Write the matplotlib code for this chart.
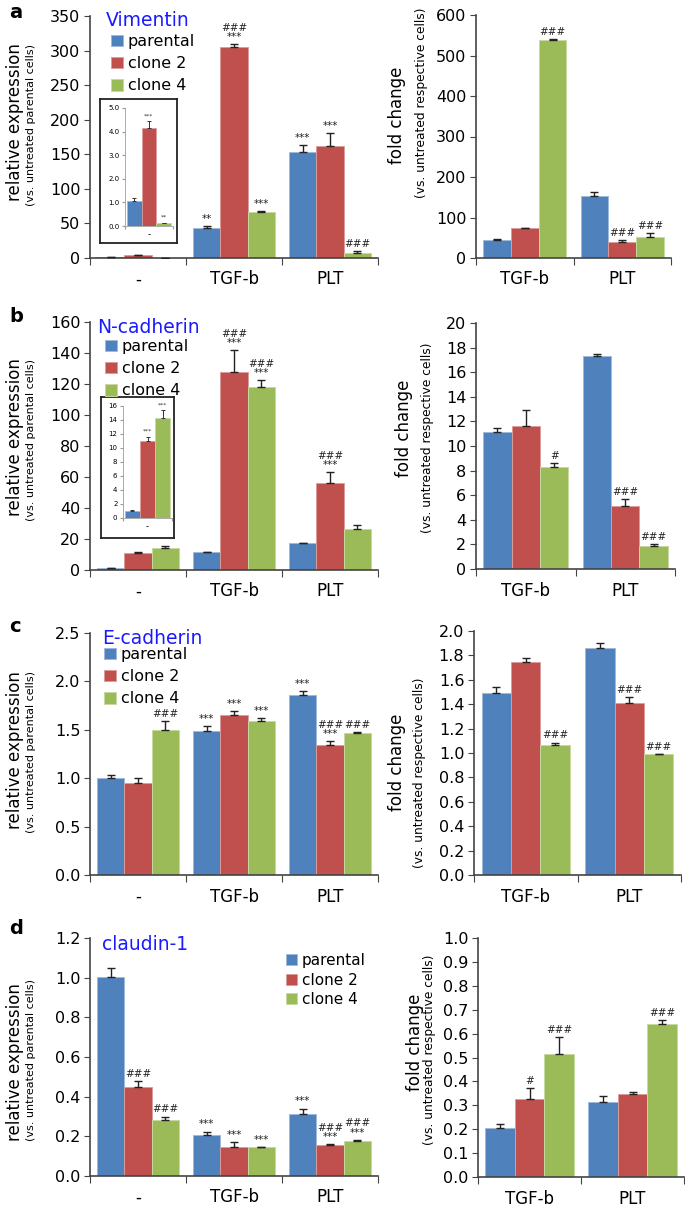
import matplotlib
matplotlib.use("Agg")
import matplotlib.pyplot as plt
from matplotlib.patches import Patch
import numpy as np

plt.rcParams['font.family'] = ['DejaVu Sans']

W, H = 685, 1207
series = ["parental", "clone 2", "clone 4"]
colors = ["#4F81BD", "#C0504D", "#9BBB59"]
edges = ["#9DB9DD", "#DB9C9A", "#C6D9A0"]

cats_left = ["-", "TGF-b", "PLT"]
cats_right = ["TGF-b", "PLT"]

# ---- Vimentin (a)
vim_rel = [[1.0, 43.5, 154.0], [4.15, 304.5, 162.5], [0.12, 66.0, 7.0]]
vim_rel_err = [[0.15, 3.0, 9.5], [0.3, 4.5, 18.0], [0.02, 1.5, 2.5]]
vim_rel_ann = [["", "**", "***"], ["", "###\n***", "***"], ["", "***", "###"]]
vim_inset = [1.05, 4.15, 0.12]
vim_inset_err = [0.15, 0.3, 0.02]
vim_inset_ann = ["", "***", "**"]
vim_fold = [[43.6, 153.7], [73.0, 39.5], [538.0, 51.0]]
vim_fold_err = [[3.5, 9.0], [2.0, 5.5], [2.0, 10.5]]
vim_fold_ann = [["", ""], ["", "###"], ["###", "###"]]

# ---- N-cadherin (b)
ncad_rel = [[1.0, 11.6, 17.4], [11.0, 127.7, 56.3], [14.3, 118.2, 26.4]]
ncad_rel_err = [[0.3, 0.3, 0.3], [0.6, 14.0, 6.7], [1.1, 4.1, 2.6]]
ncad_rel_ann = [["", "", ""], ["", "###\n***", "###\n***"], ["", "###\n***", ""]]
ncad_inset = [1.0, 11.0, 14.3]
ncad_inset_err = [0.1, 0.6, 1.1]
ncad_inset_ann = ["", "***", "***"]
ncad_fold = [[11.14, 17.3], [11.63, 5.1], [8.29, 1.84]]
ncad_fold_err = [[0.35, 0.2], [1.27, 0.6], [0.3, 0.19]]
ncad_fold_ann = [["", ""], ["", "###"], ["#", "###"]]

# ---- E-cadherin (c)
ecad_rel = [[1.0, 1.49, 1.86], [0.95, 1.65, 1.34], [1.50, 1.59, 1.47]]
ecad_rel_err = [[0.03, 0.05, 0.04], [0.05, 0.04, 0.04], [0.09, 0.03, 0.01]]
ecad_rel_ann = [["", "***", "***"], ["", "***", "###\n***"], ["###", "***", "###"]]
ecad_fold = [[1.495, 1.858], [1.743, 1.413], [1.067, 0.99]]
ecad_fold_err = [[0.05, 0.042], [0.037, 0.044], [0.019, 0.003]]
ecad_fold_ann = [["", ""], ["", "###"], ["###", "###"]]

# ---- claudin-1 (d)
cld_rel = [[1.003, 0.209, 0.315], [0.447, 0.148, 0.155], [0.28, 0.145, 0.178]]
cld_rel_err = [[0.044, 0.015, 0.025], [0.032, 0.021, 0.005], [0.02, 0.003, 0.005]]
cld_rel_ann = [["", "***", "***"], ["###", "***", "###\n***"], ["###", "***", "###\n***"]]
cld_fold = [[0.206, 0.312], [0.327, 0.347], [0.516, 0.641]]
cld_fold_err = [[0.014, 0.025], [0.046, 0.008], [0.07, 0.015]]
cld_fold_ann = [["", ""], ["#", ""], ["###", "###"]]

fig = plt.figure(figsize=(W / 100, H / 100), dpi=100)


def ax_at(x0, x1, ytop, ybot):
    return fig.add_axes([x0 / W, 1 - ybot / H, (x1 - x0) / W, (ybot - ytop) / H])


BW = 0.285
SPINE = "#444444"


def bars(ax, cats, vals, errs, anns, ylim, yticks, fmt, tick_fs=11.5, xl_fs=12,
         ann_fs=7.5, bw=BW, cap=3, elw=1.0):
    n = len(cats)
    x = np.arange(n)
    for i in range(3):
        xs = x + (i - 1) * bw
        ax.bar(xs, vals[i], width=bw, color=colors[i], edgecolor=edges[i],
               linewidth=0.7, zorder=2)
        ax.errorbar(xs, vals[i], yerr=[np.zeros(n), errs[i]], fmt='none',
                    ecolor="#222222", elinewidth=elw, capsize=cap, capthick=elw, zorder=3)
        for j in range(n):
            if anns[i][j]:
                ax.annotate(anns[i][j], (xs[j], vals[i][j] + errs[i][j]),
                            xytext=(0, 1.5), textcoords='offset points',
                            ha='center', va='bottom', fontsize=ann_fs,
                            linespacing=0.9, color="#222222")
    ax.set_xlim(-0.5, n - 0.5)
    ax.set_ylim(*ylim)
    ax.set_yticks(yticks)
    ax.set_yticklabels([fmt.format(t) for t in yticks], fontsize=tick_fs)
    ax.set_xticks(np.arange(n + 1) - 0.5)
    ax.set_xticklabels([])
    ax.set_xticks(x, minor=True)
    ax.set_xticklabels(cats, minor=True, fontsize=xl_fs)
    ax.tick_params(axis='x', which='minor', length=0, pad=9)
    ax.tick_params(axis='x', which='major', length=5, direction='out', color=SPINE)
    ax.tick_params(axis='y', length=4, direction='out', color=SPINE, pad=3)
    for s in ['top', 'right']:
        ax.spines[s].set_visible(False)
    for s in ['left', 'bottom']:
        ax.spines[s].set_color(SPINE)
        ax.spines[s].set_linewidth(1.2)
    ax.patch.set_alpha(0)


def ylabels(xm, xs, yc, ycs, main, sub, fs_main=12, fs_sub=8):
    fig.text(xm / W, 1 - yc / H, main, rotation=90, ha='center', va='center', fontsize=fs_main)
    fig.text(xs / W, 1 - ycs / H, sub, rotation=90, ha='center', va='center', fontsize=fs_sub)


def legend(ax_x, ax_y, fs=11.5, spacing=0.45):
    handles = [Patch(facecolor=c, edgecolor=e, linewidth=0.7) for c, e in zip(colors, edges)]
    fig.legend(handles, series, loc='upper left', bbox_to_anchor=(ax_x / W, 1 - ax_y / H),
               frameon=False, fontsize=fs, handlelength=0.75, handleheight=0.75,
               handletextpad=0.3, labelspacing=spacing, borderpad=0, borderaxespad=0)


def inset(fx0, fx1, fy0, fy1, x0, x1, ytop, ybot, vals, errs, anns, ylim, yticks, fmt):
    frame = ax_at(fx0, fx1, fy0, fy1)
    frame.set_xticks([]); frame.set_yticks([])
    for s in frame.spines.values():
        s.set_color("#222222"); s.set_linewidth(1.3)
    frame.set_facecolor("white")
    frame.set_zorder(5)
    a = ax_at(x0, x1, ytop, ybot)
    a.set_zorder(6)
    bw = 0.31
    for i in range(3):
        xi = (i - 1) * bw
        a.bar([xi], [vals[i]], width=bw, color=colors[i], edgecolor=edges[i], linewidth=0.5)
        a.errorbar([xi], [vals[i]], yerr=[[0], [errs[i]]], fmt='none', ecolor="#333333",
                   elinewidth=0.7, capsize=1.6, capthick=0.7)
        if anns[i]:
            a.annotate(anns[i], (xi, vals[i] + errs[i]), xytext=(0, 2), textcoords='offset points',
                       ha='center', va='bottom', fontsize=4.5, color="#333333")
    a.set_xlim(-0.5, 0.5)
    a.set_ylim(*ylim)
    a.set_yticks(yticks)
    a.set_yticklabels([fmt.format(t) for t in yticks], fontsize=5)
    a.set_xticks([-0.5, 0.5]); a.set_xticklabels([])
    a.set_xticks([0], minor=True); a.set_xticklabels(["-"], minor=True, fontsize=6)
    a.tick_params(axis='x', which='minor', length=0, pad=3)
    a.tick_params(axis='x', which='major', length=2, color="#999999")
    a.tick_params(axis='y', length=2, color="#999999", pad=2)
    for s in ['top', 'right']:
        a.spines[s].set_visible(False)
    for s in ['left', 'bottom']:
        a.spines[s].set_color("#AAAAAA"); a.spines[s].set_linewidth(0.7)
    a.patch.set_alpha(0)


def panel_letter(x, y, t):
    fig.text(x / W, 1 - y / H, t, fontsize=14, fontweight='bold', ha='left', va='center')


LEFT_MAIN = "relative expression"
LEFT_SUB = "(vs. untreated parental cells)"
RIGHT_MAIN = "fold change"
RIGHT_SUB = "(vs. untreated respective cells)"
RS = 8.8

# ================= a
ax = ax_at(90, 378, 16, 258)
bars(ax, cats_left, vim_rel, vim_rel_err, vim_rel_ann, (0, 350), list(range(0, 351, 50)), "{:.0f}")
fig.text(106 / W, 1 - 21 / H, "Vimentin", color="#1a1aff", fontsize=13.5, ha='left', va='center')
legend(111, 34)
inset(100, 177, 99, 243, 125, 173, 108, 226, vim_inset, vim_inset_err, vim_inset_ann,
      (0, 5), [0, 1, 2, 3, 4, 5], "{:.1f}")
ylabels(15, 31, 122, 125, LEFT_MAIN, LEFT_SUB)
panel_letter(9, 13, "a")

ax = ax_at(476, 671, 15, 258)
bars(ax, cats_right, vim_fold, vim_fold_err, vim_fold_ann, (0, 600), list(range(0, 601, 100)), "{:.0f}")
ylabels(397, 421, 115, 103, RIGHT_MAIN, RIGHT_SUB, fs_sub=RS)

# ================= b
ax = ax_at(90, 378, 322, 570)
bars(ax, cats_left, ncad_rel, ncad_rel_err, ncad_rel_ann, (0, 160), list(range(0, 161, 20)), "{:.0f}")
fig.text(97 / W, 1 - 327 / H, "N-cadherin", color="#1a1aff", fontsize=13.5, ha='left', va='center')
legend(105, 339)
inset(101, 174, 397, 538, 123, 172, 406, 518, ncad_inset, ncad_inset_err, ncad_inset_ann,
      (0, 16), list(range(0, 17, 2)), "{:.0f}")
ylabels(15, 31, 437, 440, LEFT_MAIN, LEFT_SUB)
panel_letter(9, 316, "b")

ax = ax_at(476, 675, 323, 569)
bars(ax, cats_right, ncad_fold, ncad_fold_err, ncad_fold_ann, (0, 20), list(range(0, 21, 2)), "{:.0f}")
ylabels(404, 427, 428, 438, RIGHT_MAIN, RIGHT_SUB, fs_sub=RS)

# ================= c
ax = ax_at(90, 378, 633, 875)
bars(ax, cats_left, ecad_rel, ecad_rel_err, ecad_rel_ann, (0, 2.5), [0, 0.5, 1.0, 1.5, 2.0, 2.5], "{:.1f}")
fig.text(102 / W, 1 - 638 / H, "E-cadherin", color="#1a1aff", fontsize=13.5, ha='left', va='center')
legend(104, 647)
ylabels(15, 31, 750, 752, LEFT_MAIN, LEFT_SUB)
panel_letter(9, 627, "c")

ax = ax_at(474, 681, 631, 875)
bars(ax, cats_right, ecad_fold, ecad_fold_err, ecad_fold_ann, (0, 2.0),
     [0, 0.2, 0.4, 0.6, 0.8, 1.0, 1.2, 1.4, 1.6, 1.8, 2.0], "{:.1f}")
ylabels(397, 419, 762, 773, RIGHT_MAIN, RIGHT_SUB, fs_sub=RS)

# ================= d
ax = ax_at(90, 378, 938, 1176)
bars(ax, cats_left, cld_rel, cld_rel_err, cld_rel_ann, (0, 1.2), [0, 0.2, 0.4, 0.6, 0.8, 1.0, 1.2], "{:.1f}")
fig.text(102 / W, 1 - 944 / H, "claudin-1", color="#1a1aff", fontsize=13.5, ha='left', va='center')
legend(286, 953, fs=11, spacing=0.3)
ylabels(15, 31, 1062, 1060, LEFT_MAIN, LEFT_SUB)
panel_letter(9, 929, "d")

ax = ax_at(478, 684, 938, 1177)
bars(ax, cats_right, cld_fold, cld_fold_err, cld_fold_ann, (0, 1.0),
     [0, 0.1, 0.2, 0.3, 0.4, 0.5, 0.6, 0.7, 0.8, 0.9, 1.0], "{:.1f}")
ylabels(415, 430, 1042, 1050, RIGHT_MAIN, RIGHT_SUB, fs_sub=RS)

fig.savefig("out.png", dpi=100)
